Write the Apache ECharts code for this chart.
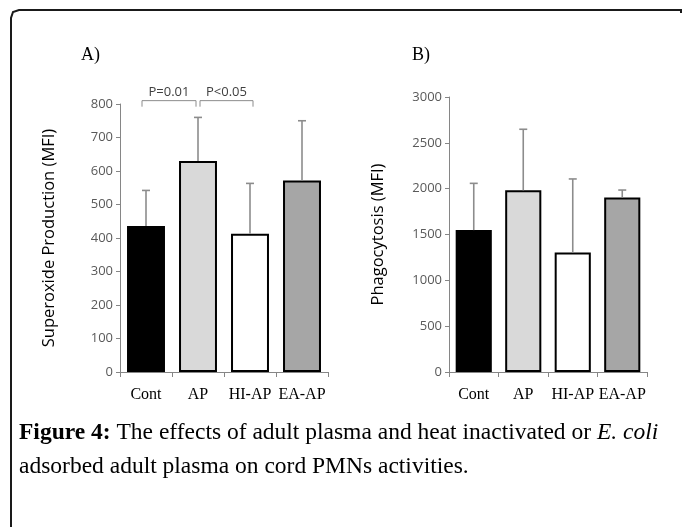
<!DOCTYPE html>
<html>
<head>
<meta charset="utf-8">
<script src="https://cdn.jsdelivr.net/npm/echarts@6/dist/echarts.min.js"></script>
<style>
  html, body { margin: 0; padding: 0; background: #fff; }
  #chart { width: 683px; height: 527px; }
</style>
</head>
<body>
<div id="chart"></div>
<script>
// values
const categories = ['Cont', 'AP', 'HI-AP', 'EA-AP']
const barColors = ['#000000', '#d9d9d9', '#ffffff', '#a6a6a6']

const superoxideMean = [436, 630, 413, 572]
const superoxideUpper = [542, 760, 563, 750]
const phagoMean = [1548, 1982, 1304, 1905]
const phagoUpper = [2058, 2648, 2106, 1985]

// significance brackets on panel A: [from, to, label]
const brackets = [[0, 1, 'P=0.01'], [1, 2, 'P<0.05']]
const bracketTop = 810
const bracketFoot = 792

const serif = 'Liberation Serif'
const sans = 'Open Sans'

const chart = echarts.init(document.getElementById('chart'))

function barData(means) {
  return means.map((v, i) => ({ value: v, itemStyle: { color: barColors[i] } }))
}

function errData(means, uppers) {
  return means.map((v, i) => [i, v, uppers[i]])
}

function renderErr(params, api) {
  const lo = api.coord([api.value(0), api.value(1)])
  const hi = api.coord([api.value(0), api.value(2)])
  const st = { stroke: '#8c8c8c', lineWidth: 1.6 }
  return {
    type: 'group',
    children: [
      { type: 'line', shape: { x1: lo[0], y1: lo[1], x2: hi[0], y2: hi[1] }, style: st },
      { type: 'line', shape: { x1: hi[0] - 4, y1: hi[1], x2: hi[0] + 4, y2: hi[1] }, style: st }
    ]
  }
}

function renderBracket(params, api) {
  const a = api.coord([api.value(0), bracketTop])
  const b = api.coord([api.value(1), bracketTop])
  const foot = api.coord([api.value(0), bracketFoot])[1]
  const idx = params.dataIndex
  const left = idx === 0 ? a[0] - 4 : a[0] + 2
  const right = idx === 0 ? b[0] - 2 : b[0] + 3
  return {
    type: 'group',
    children: [
      {
        type: 'polyline',
        shape: { points: [[left, foot], [left, a[1]], [right, a[1]], [right, foot]] },
        style: { stroke: '#8c8c8c', lineWidth: 1, fill: null }
      },
      {
        type: 'text',
        style: {
          text: brackets[idx][2], x: (left + right) / 2, y: a[1] - 2,
          align: 'center', verticalAlign: 'bottom',
          fontFamily: sans, fontSize: 13, fill: '#404040'
        }
      }
    ]
  }
}

const axisGrey = '#868686'

function xAxisFor(gridIndex) {
  return {
    type: 'category', gridIndex, data: categories,
    axisLine: { lineStyle: { color: axisGrey, width: 1 } },
    axisTick: { show: true, length: 5, lineStyle: { color: axisGrey } },
    axisLabel: { interval: 0, fontFamily: serif, fontSize: 16, color: '#000', margin: 15 }
  }
}

function yAxisFor(gridIndex, max, interval, name) {
  return {
    type: 'value', gridIndex, min: 0, max, interval,
    name, nameLocation: 'middle', nameGap: 62,
    nameTextStyle: { fontFamily: sans, fontSize: 16.5, color: '#000' },
    axisLine: { show: true, lineStyle: { color: axisGrey, width: 1 } },
    axisTick: { show: true, length: 4, lineStyle: { color: axisGrey } },
    axisLabel: { fontFamily: sans, fontSize: 13, color: '#595959', margin: 7, formatter: v => String(v) },
    splitLine: { show: false }
  }
}

chart.setOption({
  animation: false,
  title: [
    { text: 'A)', left: 81, top: 46, padding: 0, textStyle: { fontFamily: serif, fontSize: 18, fontWeight: 'normal', color: '#000' } },
    { text: 'B)', left: 412, top: 46, padding: 0, textStyle: { fontFamily: serif, fontSize: 18, fontWeight: 'normal', color: '#000' } }
  ],
  grid: [
    { left: 120, width: 208, top: 104, height: 268 },
    { left: 449, width: 198, top: 97, height: 275 }
  ],
  xAxis: [xAxisFor(0), xAxisFor(1)],
  yAxis: [
    yAxisFor(0, 800, 100, 'Superoxide Production (MFI)'),
    yAxisFor(1, 3000, 500, 'Phagocytosis (MFI)')
  ],
  series: [
    {
      type: 'bar', xAxisIndex: 0, yAxisIndex: 0, barWidth: '73%',
      data: barData(superoxideMean),
      itemStyle: { borderColor: '#000', borderWidth: 2 }
    },
    {
      type: 'custom', xAxisIndex: 0, yAxisIndex: 0, z: 3,
      data: errData(superoxideMean, superoxideUpper), renderItem: renderErr
    },
    {
      type: 'custom', xAxisIndex: 0, yAxisIndex: 0, clip: false,
      data: brackets.map(b => [b[0], b[1]]), renderItem: renderBracket
    },
    {
      type: 'bar', xAxisIndex: 1, yAxisIndex: 1, barWidth: '73%',
      data: barData(phagoMean),
      itemStyle: { borderColor: '#000', borderWidth: 2 }
    },
    {
      type: 'custom', xAxisIndex: 1, yAxisIndex: 1, z: 3,
      data: errData(phagoMean, phagoUpper), renderItem: renderErr
    }
  ],
  graphic: [
    {
      type: 'polyline',
      shape: { points: [[11, 527], [11, 18], [13, 12], [19, 10], [681, 10], [681, 13]] },
      style: { stroke: '#1a1a1a', lineWidth: 2, fill: null }
    },
    {
      type: 'text', left: 19, top: 416,
      style: {
        text: '{b|Figure 4:} The effects of adult plasma and heat inactivated or {i|E. coli}\nadsorbed adult plasma on cord PMNs activities.',
        fontFamily: serif, fontSize: 23.5, lineHeight: 34, fill: '#000',
        rich: {
          b: { fontFamily: serif, fontSize: 23.5, fontWeight: 'bold' },
          i: { fontFamily: serif, fontSize: 23.5, fontStyle: 'italic' }
        }
      }
    }
  ]
})
</script>
</body>
</html>
